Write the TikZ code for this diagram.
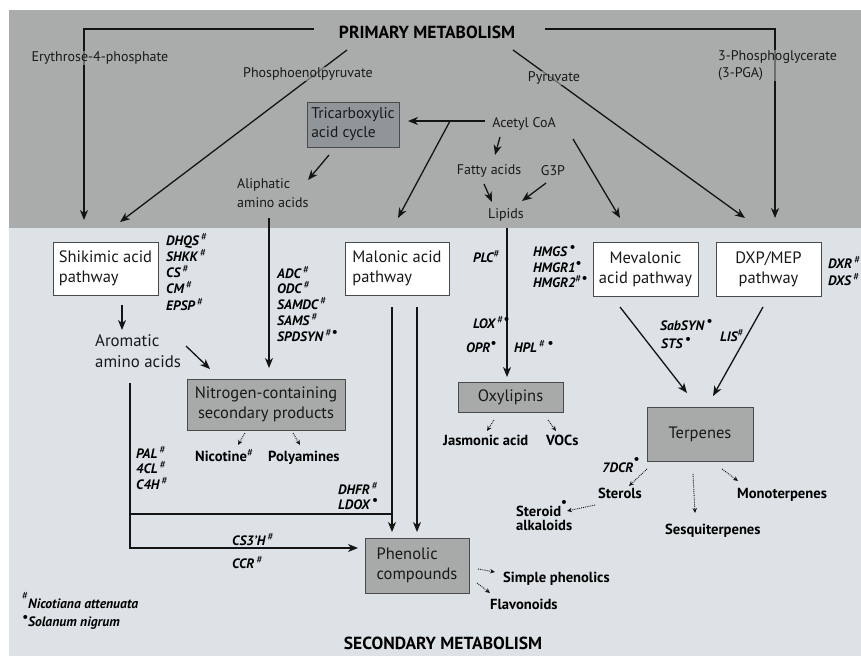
\documentclass[tikz,border=0pt]{standalone}
\usepackage{fontspec}
\setmainfont{PT Sans}
\usetikzlibrary{arrows.meta}
\definecolor{topgray}{HTML}{AAABAB}
\definecolor{botgray}{HTML}{DCE2E5}
\definecolor{tcafill}{HTML}{8F9598}
\definecolor{boxgray}{HTML}{A8A9A9}
\definecolor{linec}{HTML}{141414}
\definecolor{boxborder}{HTML}{4A4A4A}
\newcommand\myhash{\raisebox{5pt}{\fontsize{11}{11}\selectfont\mdseries\upshape\#}}
\newcommand\mydot{\raisebox{5pt}{\fontsize{13}{13}\selectfont\bfseries •}}
\pgfdeclarelayer{bg}
\pgfdeclarelayer{lines}
\pgfsetlayers{bg,lines,main}
\tikzset{
  lbl/.style={font=\fontsize{14}{17}\selectfont, inner sep=0pt, text=black!90},
  fadebg/.style={fill=topgray, fill opacity=0.6, text opacity=1, inner sep=1pt},
  boxt/.style={font=\fontsize{16.5}{20}\selectfont, text=black!90},
  enz/.style={font=\fontsize{13.6}{15}\selectfont\bfseries\itshape, inner sep=0pt, anchor=base west},
  prod/.style={font=\fontsize{14.6}{16}\selectfont\bfseries, inner sep=0pt, anchor=base west},
  title/.style={font=\fontsize{17.5}{20}\selectfont\bfseries, inner sep=0pt},
  conn/.style={line width=1.3pt, draw=linec, -{Stealth[length=10pt,width=8pt,inset=3pt]}},
  plainline/.style={line width=1.3pt, draw=linec},
  dotarr/.style={line width=0.9pt, densely dotted, draw=linec, -{Stealth[length=5pt,width=4.5pt]}},
  whitebox/.style={draw=boxborder, line width=1pt, fill=white, boxt},
  graybox/.style={draw=boxborder, line width=1pt, fill=boxgray, boxt},
}
\begin{document}
\begin{tikzpicture}[x=1pt,y=-1pt]
\useasboundingbox (0,0) rectangle (861,656);
\begin{pgfonlayer}{bg}
  \fill[white] (0,0) rectangle (861,656);
  \fill[topgray] (9,10) rectangle (861,228);
  \fill[botgray] (9,228) rectangle (861,656);
\end{pgfonlayer}

% ---------- titles ----------
\node[title] (prim) at (427,32) {PRIMARY METABOLISM};
\node[title] (sec) at (443,643) {SECONDARY METABOLISM};

% ---------- primary labels ----------
\node[lbl, fadebg] (ery) at (100,58) {Erythrose-4-phosphate};
\node[lbl, fadebg] (pep) at (308,74) {Phosphoenolpyruvate};
\node[lbl, fadebg] (pyr) at (554,78) {Pyruvate};
\node[lbl, fadebg, align=left, anchor=west, font=\fontsize{14}{17}\selectfont] (pga) at (717,65.5) {3-Phosphoglycerate\\(3-PGA)};
\node[lbl] (acoa) at (524,124) {Acetyl CoA};
\node[lbl] (fa) at (489,171) {Fatty acids};
\node[lbl] (g3p) at (553,171) {G3P};
\node[lbl] (lip) at (506,215) {Lipids};
\node[lbl, align=left, anchor=west, font=\fontsize{14}{19}\selectfont] (aliph) at (237,193.5) {Aliphatic\\amino acids};
\node[draw=boxborder, line width=1pt, fill=tcafill, font=\fontsize{15.5}{19}\selectfont, text=black!90,
      minimum width=92pt, minimum height=45pt, inner sep=0pt, align=left] (tca) at (353,124.5) {Tricarboxylic\\acid cycle};

% ---------- pathway boxes ----------
\node[whitebox, minimum width=105pt, minimum height=53pt, inner sep=0pt, align=left] (shik) at (105.5,268.5) {Shikimic acid\\pathway};
\node[whitebox, minimum width=104pt, minimum height=53pt, inner sep=0pt, align=left] (malon) at (397,268.5) {Malonic acid\\pathway};
\node[whitebox, minimum width=105pt, minimum height=54pt, inner sep=0pt, align=center] (mev) at (645.5,269) {Mevalonic\\acid pathway};
\node[whitebox, minimum width=105pt, minimum height=54pt, inner sep=0pt, align=center] (dxp) at (768.5,269) {DXP/MEP\\pathway};

\node[boxt, align=left, anchor=west, inner sep=0pt, font=\fontsize{16.8}{21}\selectfont] (arom) at (95,351) {Aromatic\\amino acids};

\node[graybox, minimum width=158pt, minimum height=51pt, inner sep=0pt, align=center] (nbox) at (266,404.5) {Nitrogen-containing\\secondary products};
\node[graybox, minimum width=105pt, minimum height=30pt, inner sep=0pt] (oxy) at (510.5,397) {Oxylipins};
\node[graybox, minimum width=106pt, minimum height=54pt] (terp) at (700,434) {Terpenes};
\node[graybox, minimum width=104pt, minimum height=55pt, inner sep=0pt, align=left] (phen) at (417,565.5) {Phenolic\\compounds};

% ---------- enzymes ----------
\node[enz] (dhqs) at (166,245) {DHQS\,\myhash};
\node[enz] (shkk) at (166,261) {SHKK\,\myhash};
\node[enz] (cs) at (166,277) {CS\,\myhash};
\node[enz] (cm) at (166,293) {CM\,\myhash};
\node[enz] (epsp) at (166,310) {EPSP\,\myhash};

\node[enz] (adc) at (277,278) {ADC\,\myhash};
\node[enz] (odc) at (277,293) {ODC\,\myhash};
\node[enz] (samdc) at (277,309) {SAMDC\,\myhash};
\node[enz] (sams) at (277,325) {SAMS\,\myhash};
\node[enz] (spd) at (277,341) {SPDSYN\,\myhash\mydot};

\node[enz] (pal) at (136,458) {PAL\,\myhash};
\node[enz] (fcl) at (136,473) {4CL\,\myhash};
\node[enz] (c4h) at (136,489) {C4H\,\myhash};

\node[enz] (dhfr) at (338,494) {DHFR\,\myhash};
\node[enz] (ldox) at (338,509) {LDOX\,\mydot};

\node[enz] (cs3h) at (232,545) {CS3'H\,\myhash};
\node[enz] (ccr) at (232,568) {CCR\,\myhash};

\node[enz] (plc) at (473,262) {PLC\myhash};
\node[enz] (lox) at (473,328) {LOX\,\myhash\mydot};
\node[enz] (opr) at (466,352) {OPR\mydot};
\node[enz] (hpl) at (514,352) {HPL\,\myhash\,\mydot};

\node[enz] (hmgs) at (533,256) {HMGS\,\mydot};
\node[enz] (hmgr1) at (533,272) {HMGR1\mydot};
\node[enz] (hmgr2) at (533,287) {HMGR2\myhash\mydot};

\node[enz] (dxr) at (828,268) {DXR\,\myhash};
\node[enz] (dxs) at (828,285) {DXS\,\myhash};

\node[enz] (sab) at (660,330) {SabSYN\,\mydot};
\node[enz] (sts) at (661,348) {STS\,\mydot};
\node[enz] (lis) at (720,341) {LIS\myhash};

\node[enz] (dcr) at (602,472) {7DCR\raisebox{4pt}{\mydot}};

% ---------- products ----------
\node[prod] (nic) at (195,461) {Nicotine\myhash};
\node[prod] (poly) at (268,461) {Polyamines};
\node[prod] (jas) at (443,445) {Jasmonic acid};
\node[prod] (voc) at (546,445) {VOCs};
\node[prod] (simp) at (503,582) {Simple phenolics};
\node[prod] (flav) at (490,609) {Flavonoids};
\node[prod] (ster) at (598,498) {Sterols};
\node[prod] (stalk1) at (516,516) {Steroid\raisebox{5pt}{\mydot}};
\node[prod] (stalk2) at (516,530) {alkaloids};
\node[prod] (sesq) at (665,534) {Sesquiterpenes};
\node[prod] (mono) at (737,498) {Monoterpenes};

% ---------- legend ----------
\node[enz] (leg1) at (22,608) {\raisebox{4pt}{\myhash}Nicotiana attenuata};
\node[enz] (leg2) at (22,626) {\raisebox{0pt}{\mydot}Solanum nigrum};

% ---------- connector end points ----------
\coordinate (tlA) at (314,29);
\coordinate (tlB) at (84,29);
\coordinate (tlC) at (84,220);
\coordinate (trA) at (545,29);
\coordinate (trB) at (775,29);
\coordinate (trC) at (775,218);
\coordinate (pepA) at (347,50);
\coordinate (pepB) at (120,222);
\coordinate (pyrA) at (513,50);
\coordinate (pyrB) at (745,218);
\coordinate (acA) at (485,121);
\coordinate (acB) at (408,121);
\coordinate (brA) at (450,121);
\coordinate (brB) at (398,218);
\coordinate (tcaA) at (329,155);
\coordinate (tcaB) at (308,180);
\coordinate (faA) at (500,137);
\coordinate (faB) at (495,155);
\coordinate (lipA) at (484,184);
\coordinate (lipB) at (492,202);
\coordinate (g3A) at (546,183);
\coordinate (g3B) at (522,201);
\coordinate (mvA) at (573,139);
\coordinate (mvB) at (620,218);
\coordinate (alA) at (269,218);
\coordinate (alB) at (269,368);
\coordinate (skA) at (122,305);
\coordinate (skB) at (122,330);
\coordinate (arA) at (186,346);
\coordinate (arB) at (210,369);
\coordinate (lfA) at (130,383);
\coordinate (lfB) at (130,548);
\coordinate (lfC) at (358,548);
\coordinate (lfM) at (130,514);
\coordinate (m1B) at (392,532);
\coordinate (m1M) at (392,514);
\coordinate (m1A) at (392,307);
\coordinate (m2A) at (417,307);
\coordinate (m2B) at (417,532);
\coordinate (oxA) at (507,228);
\coordinate (oxB) at (507,377);
\coordinate (mtA) at (620,307);
\coordinate (mtB) at (687,393);
\coordinate (dtA) at (763,307);
\coordinate (dtB) at (713,396);

\coordinate (d1A) at (245,433); \coordinate (d1B) at (238,445);
\coordinate (d2A) at (293,433); \coordinate (d2B) at (300,445);
\coordinate (d3A) at (494,420); \coordinate (d3B) at (487,431);
\coordinate (d4A) at (548,420); \coordinate (d4B) at (556,431);
\coordinate (d5A) at (647,469); \coordinate (d5B) at (629,486);
\coordinate (d6A) at (595,505); \coordinate (d6B) at (567,511);
\coordinate (d7A) at (693,474); \coordinate (d7B) at (695,513);
\coordinate (d8A) at (722,469); \coordinate (d8B) at (738,481);
\coordinate (d9A) at (478,569); \coordinate (d9B) at (495,572);
\coordinate (d10A) at (477,583); \coordinate (d10B) at (490,593);

\begin{pgfonlayer}{lines}
  \draw[conn] (tlA) -- (tlB) -- (tlC);
  \draw[conn] (trA) -- (trB) -- (trC);
  \draw[conn] (pepA) -- (pepB);
  \draw[conn] (pyrA) -- (pyrB);
  \draw[conn] (acA) -- (acB);
  \draw[conn] (brA) -- (brB);
  \draw[conn] (tcaA) -- (tcaB);
  \draw[conn] (faA) -- (faB);
  \draw[conn] (lipA) -- (lipB);
  \draw[conn] (g3A) -- (g3B);
  \draw[conn] (mvA) -- (mvB);
  \draw[conn] (alA) -- (alB);
  \draw[conn] (skA) -- (skB);
  \draw[conn] (arA) -- (arB);
  \draw[conn] (lfA) -- (lfB) -- (lfC);
  \draw[plainline] (lfM) -- (m1M);
  \draw[conn] (m1A) -- (m1B);
  \draw[conn] (m2A) -- (m2B);
  \draw[conn] (oxA) -- (oxB);
  \draw[conn] (mtA) -- (mtB);
  \draw[conn] (dtA) -- (dtB);
  \foreach \i in {1,...,10} { \draw[dotarr] (d\i A) -- (d\i B); }
\end{pgfonlayer}
\end{tikzpicture}
\end{document}
